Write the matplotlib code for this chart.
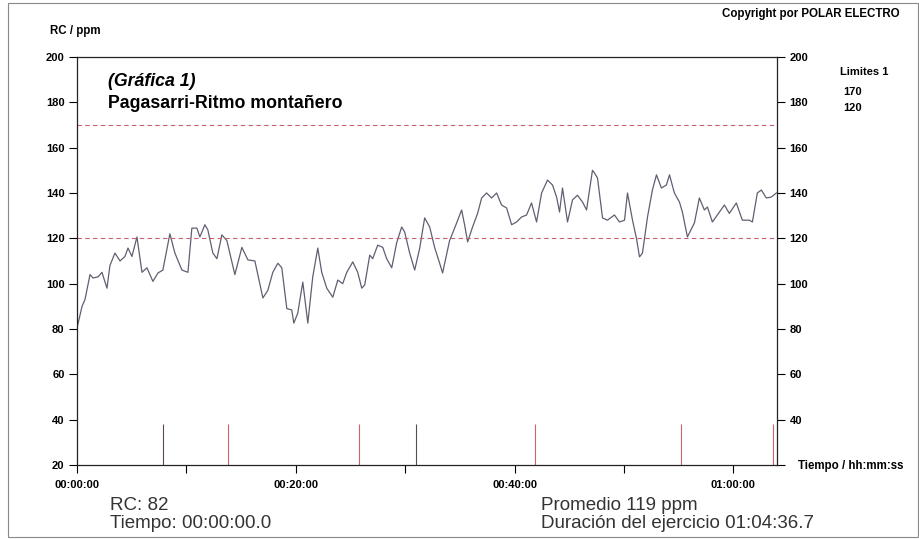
import numpy as np
import matplotlib
matplotlib.use("Agg")
import matplotlib.pyplot as plt
from matplotlib.patches import Rectangle

plt.rcParams['font.family'] = ['Liberation Sans', 'DejaVu Sans']

# tiempo en minutos y ritmo cardiaco (ppm)
t_min = [0.0, 0.46, 0.73, 1.19, 1.46, 1.92, 2.28, 2.74, 3.01, 3.47, 3.93, 4.38, 4.66, 5.02,
         5.48, 5.94, 6.39, 6.94, 7.40, 7.85, 8.49, 8.95, 9.59, 10.14, 10.50, 10.96, 11.23,
         11.69, 11.96, 12.42, 12.79, 13.24, 13.70, 14.43, 15.07, 15.62, 16.26, 16.99, 17.44,
         17.90, 18.36, 18.72, 19.18, 19.63, 19.82, 20.18, 20.64, 21.10, 21.55, 22.01, 22.37,
         22.83, 23.38, 23.84, 24.29, 24.66, 25.21, 25.66, 26.03, 26.30, 26.76, 27.03, 27.49,
         27.95, 28.31, 28.77, 29.22, 29.68, 29.95, 30.41, 30.87, 31.32, 31.78, 32.24, 32.69,
         33.15, 33.42, 34.06, 34.52, 35.16, 35.43, 35.71, 36.16, 36.62, 36.99, 37.44, 37.90,
         38.36, 38.81, 39.27, 39.73, 40.18, 40.64, 41.10, 41.55, 42.01, 42.47, 43.01, 43.47,
         43.84, 44.11, 44.38, 44.84, 45.30, 45.75, 46.21, 46.58, 47.12, 47.31, 47.58, 48.04,
         48.49, 49.13, 49.59, 50.05, 50.32, 50.78, 51.14, 51.42, 51.69, 52.15, 52.60, 52.97,
         53.42, 53.88, 54.16, 54.61, 55.07, 55.34, 55.80, 56.44, 56.89, 57.35, 57.63, 58.08,
         58.54, 59.18, 59.63, 60.27, 60.82, 61.46, 61.74, 62.19, 62.56, 63.01, 63.47, 63.93]
rc = [80.4, 90, 93, 104, 102.5, 103, 105, 98, 108, 113.5, 110, 112, 115.7, 112,
      120.6, 105, 107, 101, 104.7, 106, 122, 113.5, 106, 105, 124.5, 124.5, 120.6,
      126, 123.7, 113.5, 111, 121.5, 119, 104, 116, 110.5, 110, 93.7, 97,
      105, 109, 107, 89, 88.4, 82.6, 87, 100.7, 82.6, 103, 115.7, 105,
      98, 94, 101.6, 100, 105, 109.6, 105, 98, 99.4, 112.6, 111, 117,
      116, 111, 107, 118, 125, 122.8, 113.5, 106, 115.5, 129, 125, 116,
      109, 104.7, 119, 124.5, 132.5, 126, 118.4, 125, 131, 137.8, 140, 137.8,
      140, 134.7, 133.4, 126, 127.2, 129.4, 130.3, 135.6, 127.2, 140, 145.7, 143.5,
      138.2, 131.6, 142.2, 127.2, 137, 139, 136, 132.5, 150, 148.8, 146.6, 129,
      128, 130.3, 127.2, 128, 140, 128, 120, 111.8, 113.5, 129.4, 141.3, 148,
      142.2, 143.5, 148, 140, 136, 131.6, 120.6, 126.8, 137.8, 132.5, 133.8, 127.2,
      130.3, 134.7, 131, 135.6, 128, 128, 127.2, 140, 141.3, 137.8, 138.2, 140]

limites = [170, 120]
marcas_t = [7.85, 13.8, 25.8, 31.0, 41.9, 55.2, 63.6]
marcas_color = ['#5a4a55', '#d0606e', '#d0606e', '#5a4a55', '#d0606e', '#d0606e', '#d0606e']
x_ticks = [0, 20, 40, 60]
x_labels = ['00:00:00', '00:20:00', '00:40:00', '01:00:00']
y_ticks = list(range(20, 201, 20))

fig = plt.figure(figsize=(9.2, 5.39), dpi=100)
ax = fig.add_axes([0.0837, 0.1373, 0.761, 0.757])

ax.plot(t_min, rc, color='#5f5f72', lw=0.9)
for lim in limites:
    ax.axhline(lim, color='#c8606e', lw=0.8, ls=(0, (4, 3)))
for tm, c in zip(marcas_t, marcas_color):
    ax.vlines(tm, 20, 38, color=c, lw=0.8)

ax.set_xlim(0, 64)
ax.set_ylim(20, 200)
ax.set_yticks(y_ticks)
ax.set_xticks(x_ticks)
ax.set_xticklabels(x_labels)
ax.set_xticks([10, 30, 50], minor=True)
ax.tick_params(axis='y', which='both', direction='out', length=6, width=0.8,
               labelsize=8, left=True, right=True, labelleft=True, labelright=True, pad=3)
ax.tick_params(axis='x', which='both', direction='out', length=6, width=0.8,
               labelsize=8, pad=5)
for lab in ax.get_xticklabels() + ax.get_yticklabels():
    lab.set_fontweight('bold')
# en el eje derecho el 20 lo ocupa el rotulo del tiempo
for tk in ax.yaxis.get_major_ticks():
    if tk.get_loc() == 20:
        tk.label2.set_visible(False)
for sp in ax.spines.values():
    sp.set_linewidth(0.9)
    sp.set_color('#222222')

fig.text(50/920, 1-31/539, 'RC / ppm', fontsize=8.3, fontweight='bold', va='center', ha='left')
fig.text(900/920, 1-14/539, 'Copyright por POLAR ELECTRO', fontsize=8.3, fontweight='bold',
         va='center', ha='right')
fig.text(840/920, 1-72/539, 'Limites 1', fontsize=8, fontweight='bold', va='center')
fig.text(843/920, 1-92/539, '170', fontsize=8, fontweight='bold', va='center')
fig.text(843/920, 1-108/539, '120', fontsize=8, fontweight='bold', va='center')
fig.text(798/920, 1-466/539, 'Tiempo / hh:mm:ss', fontsize=8.3, fontweight='bold', va='center')

fig.text(108/920, 1-82/539, '(Gráfica 1)', fontsize=12.8, fontweight='bold', style='italic',
         va='center')
fig.text(108/920, 1-103/539, 'Pagasarri-Ritmo montañero', fontsize=12.8, fontweight='bold',
         va='center')

col_txt = '#333333'
fig.text(110/920, 1-505/539, 'RC: 82', fontsize=13.5, color=col_txt, va='center')
fig.text(110/920, 1-523/539, 'Tiempo: 00:00:00.0', fontsize=13.5, color=col_txt, va='center')
fig.text(541/920, 1-505/539, 'Promedio 119 ppm', fontsize=13.5, color=col_txt, va='center')
fig.text(541/920, 1-523/539, 'Duración del ejercicio 01:04:36.7', fontsize=13.5, color=col_txt,
         va='center')

fig.patches.append(Rectangle((8/920, 2/539), 910/920, 534/539, transform=fig.transFigure,
                             fill=False, edgecolor='#888888', lw=0.8))

fig.savefig('out.png', dpi=100)
